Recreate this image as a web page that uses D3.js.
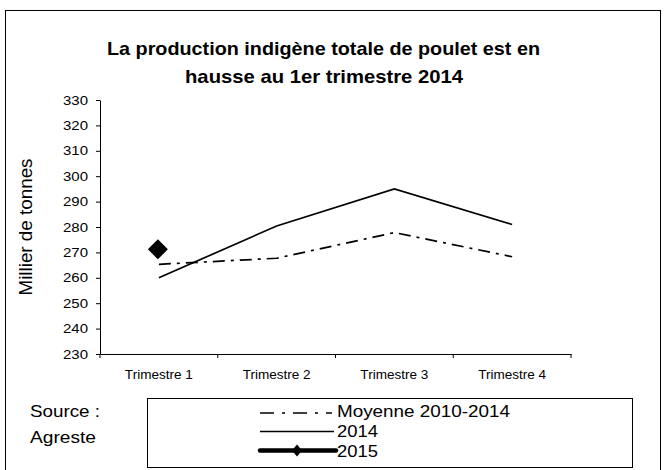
<!DOCTYPE html>
<html><head><meta charset="utf-8">
<script src="https://cdn.jsdelivr.net/npm/d3@7"></script>
<style>body{margin:0;background:#fff}svg{font-family:"Liberation Sans",Arial,sans-serif}</style>
</head><body>
<svg id="c" width="664" height="470"></svg>
<script>
const categories = ["Trimestre 1","Trimestre 2","Trimestre 3","Trimestre 4"];
const moyenne = [265.3, 267.7, 277.8, 268.3];
const y2014 = [260, 280.4, 295, 281];
const y2015 = [271.2];
const yTicks = [230,240,250,260,270,280,290,300,310,320,330];
const seriesNames = ["Moyenne 2010-2014","2014","2015"];

const svg = d3.select("#c");
svg.append("rect").attr("x",5.5).attr("y",10.5).attr("width",655).attr("height",470).attr("fill","none").attr("stroke","#000").attr("stroke-width",1);

const x = d3.scaleBand().domain(categories).range([100,571]);
const y = d3.scaleLinear().domain([230,330]).range([354,100]);

svg.append("text").attr("x",323.5).attr("y",55).attr("text-anchor","middle").attr("font-weight","bold").attr("font-size",19)
  .attr("textLength",433).attr("lengthAdjust","spacingAndGlyphs").text("La production indigène totale de poulet est en");
svg.append("text").attr("x",324).attr("y",83).attr("text-anchor","middle").attr("font-weight","bold").attr("font-size",19)
  .attr("textLength",278).attr("lengthAdjust","spacingAndGlyphs").text("hausse au 1er trimestre 2014");

const ya = svg.append("g").attr("transform","translate(100,0)")
  .call(d3.axisLeft(y).tickValues(yTicks).tickSize(4).tickSizeOuter(0));
ya.selectAll("text").attr("font-size",13).attr("font-family","Liberation Sans, Arial").attr("x",-12)
  .attr("textLength",25).attr("lengthAdjust","spacingAndGlyphs");
const xa = svg.append("g").attr("transform","translate(0,354)")
  .call(d3.axisBottom(x).tickSize(0).tickSizeOuter(0));
xa.selectAll("text").attr("font-size",13.5).attr("font-family","Liberation Sans, Arial").attr("y",25).attr("dy",null)
  .attr("textLength",68).attr("lengthAdjust","spacingAndGlyphs");
svg.append("g").selectAll("line").data(d3.range(categories.length+1)).join("line")
  .attr("x1",i=>100+i*x.step()).attr("x2",i=>100+i*x.step()).attr("y1",354).attr("y2",358).attr("stroke","#000");
svg.selectAll(".domain").attr("stroke","#000");

svg.append("text").attr("transform","translate(32,227) rotate(-90)").attr("text-anchor","middle").attr("font-size",18.5)
  .attr("textLength",137).attr("lengthAdjust","spacingAndGlyphs").text("Millier de tonnes");

const cx = d => x(d)+x.bandwidth()/2;
const line = d3.line().x((d,i)=>cx(categories[i])).y(d=>y(d));
svg.append("path").datum(moyenne).attr("d",line).attr("fill","none").attr("stroke","#000").attr("stroke-width",1.7).attr("stroke-dasharray","12,6,3,6");
svg.append("path").datum(y2014).attr("d",line).attr("fill","none").attr("stroke","#000").attr("stroke-width",1.7);
svg.append("g").selectAll("path").data(y2015).join("path")
  .attr("transform",(d,i)=>`translate(${cx(categories[i])-1},${y(d)})`)
  .attr("d","M0,-10L10,0L0,10L-10,0Z").attr("fill","#000");

svg.append("text").attr("x",30).attr("y",417).attr("font-size",17).attr("textLength",70).attr("lengthAdjust","spacingAndGlyphs").text("Source :");
svg.append("text").attr("x",30).attr("y",443).attr("font-size",17).attr("textLength",66).attr("lengthAdjust","spacingAndGlyphs").text("Agreste");

svg.append("rect").attr("x",147.5).attr("y",398.5).attr("width",485).attr("height",69).attr("fill","#fff").attr("stroke","#000");
const lg = svg.append("g");
const base = [416.5,437,457];
const lw = [173,41,41];
lg.append("line").attr("x1",260).attr("x2",332).attr("y1",413).attr("y2",413).attr("stroke","#000").attr("stroke-width",1.4).attr("stroke-dasharray","14,8,3,8");
lg.append("line").attr("x1",260).attr("x2",334).attr("y1",431.5).attr("y2",431.5).attr("stroke","#000").attr("stroke-width",1.3);
lg.append("line").attr("x1",260).attr("x2",336).attr("y1",450.5).attr("y2",450.5).attr("stroke","#000").attr("stroke-width",4.5).attr("stroke-linecap","round");
lg.append("path").attr("transform",`translate(297,450.5)`).attr("d","M0,-6L5,0L0,6L-5,0Z").attr("fill","#000");
lg.selectAll("text").data(seriesNames).join("text").attr("x",337).attr("y",(d,i)=>base[i]).attr("font-size",17)
  .attr("textLength",(d,i)=>lw[i]).attr("lengthAdjust","spacingAndGlyphs").text(d=>d);
</script>
</body></html>
